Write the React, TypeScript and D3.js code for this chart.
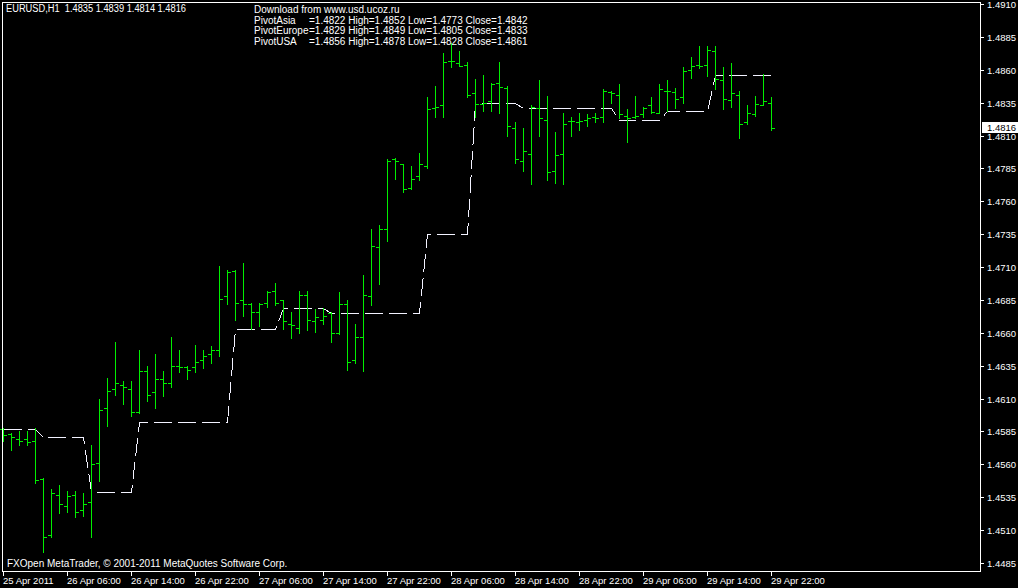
import * as d3 from 'd3';
import React from 'react';

// chart header / info texts
const titleText = 'EURUSD,H1  1.4835 1.4839 1.4814 1.4816';
const sourceText = 'Download from www.usd.ucoz.ru';
const pivotNames = ['PivotAsia', 'PivotEurope', 'PivotUSA'];
const pivotInfo = [
  '=1.4822 High=1.4852 Low=1.4773 Close=1.4842',
  '=1.4829 High=1.4849 Low=1.4805 Close=1.4833',
  '=1.4856 High=1.4878 Low=1.4828 Close=1.4861',
];
const footerText = 'FXOpen MetaTrader, \u00a9 2001-2011 MetaQuotes Software Corp.';

// time axis labels, one every 8 bars (H1)
const xTickLabels = [
  '25 Apr 2011', '26 Apr 06:00', '26 Apr 14:00', '26 Apr 22:00', '27 Apr 06:00',
  '27 Apr 14:00', '27 Apr 22:00', '28 Apr 06:00', '28 Apr 14:00', '28 Apr 22:00',
  '29 Apr 06:00', '29 Apr 14:00', '29 Apr 22:00',
];
const barsPerTick = 8;

// OHLC, 25 Apr 22:00 .. 29 Apr 22:00
const opens = [
  1.4587, 1.4583, 1.4579, 1.4579, 1.4578, 1.4549, 1.4506, 1.4537, 1.4528, 1.4537,
  1.4525, 1.4531, 1.4561, 1.4603, 1.4617, 1.4620, 1.4617, 1.4600, 1.4631, 1.4615,
  1.4625, 1.4622, 1.4635, 1.4634, 1.4634, 1.4639, 1.4644, 1.4647, 1.4688, 1.4707,
  1.4685, 1.4682, 1.4676, 1.4683, 1.4692, 1.4685, 1.4667, 1.4664, 1.4689, 1.4669,
  1.4670, 1.4675, 1.4660, 1.4682, 1.4639, 1.4657, 1.4688, 1.4725, 1.4739, 1.4792,
  1.4788, 1.4770, 1.4779, 1.4787, 1.4831, 1.4833, 1.4867, 1.4865, 1.4864, 1.4842,
  1.4834, 1.4836, 1.4850, 1.4846, 1.4816, 1.4791, 1.4796, 1.4831, 1.4822, 1.4783,
  1.4796, 1.4821, 1.4820, 1.4822, 1.4824, 1.4824, 1.4843, 1.4841, 1.4825, 1.4824,
  1.4826, 1.4833, 1.4827, 1.4844, 1.4843, 1.4839, 1.4860, 1.4864, 1.4864, 1.4874,
  1.4852, 1.4837, 1.4841, 1.4820, 1.4826, 1.4833, 1.4835,
];
const highs = [
  1.4588, 1.4584, 1.4585, 1.4585, 1.4588, 1.4550, 1.4541, 1.4544, 1.4540, 1.4540,
  1.4538, 1.4575, 1.4610, 1.4626, 1.4653, 1.4623, 1.4623, 1.4647, 1.4635, 1.4644,
  1.4631, 1.4657, 1.4647, 1.4635, 1.4651, 1.4647, 1.4650, 1.4711, 1.4708, 1.4708,
  1.4713, 1.4683, 1.4683, 1.4692, 1.4698, 1.4685, 1.4676, 1.4692, 1.4692, 1.4678,
  1.4679, 1.4676, 1.4691, 1.4685, 1.4667, 1.4704, 1.4739, 1.4742, 1.4792, 1.4793,
  1.4788, 1.4787, 1.4797, 1.4839, 1.4848, 1.4873, 1.4880, 1.4874, 1.4866, 1.4853,
  1.4856, 1.4850, 1.4866, 1.4848, 1.4820, 1.4816, 1.4833, 1.4852, 1.4840, 1.4813,
  1.4827, 1.4824, 1.4827, 1.4826, 1.4827, 1.4845, 1.4844, 1.4849, 1.4830, 1.4840,
  1.4832, 1.4839, 1.4849, 1.4852, 1.4846, 1.4862, 1.4870, 1.4878, 1.4878, 1.4878,
  1.4862, 1.4865, 1.4844, 1.4833, 1.4840, 1.4857, 1.4839,
];
const lows = [
  1.4578, 1.4571, 1.4575, 1.4575, 1.4546, 1.4493, 1.4505, 1.4523, 1.4524, 1.4520,
  1.4521, 1.4505, 1.4547, 1.4589, 1.4613, 1.4606, 1.4597, 1.4599, 1.4608, 1.4603,
  1.4612, 1.4619, 1.4630, 1.4625, 1.4630, 1.4633, 1.4637, 1.4642, 1.4682, 1.4670,
  1.4673, 1.4663, 1.4665, 1.4680, 1.4681, 1.4663, 1.4656, 1.4660, 1.4662, 1.4661,
  1.4667, 1.4653, 1.4659, 1.4632, 1.4637, 1.4631, 1.4681, 1.4697, 1.4730, 1.4777,
  1.4767, 1.4769, 1.4776, 1.4785, 1.4824, 1.4824, 1.4862, 1.4863, 1.4839, 1.4824,
  1.4829, 1.4829, 1.4827, 1.4810, 1.4789, 1.4783, 1.4773, 1.4810, 1.4776, 1.4774,
  1.4773, 1.4810, 1.4814, 1.4817, 1.4820, 1.4820, 1.4835, 1.4823, 1.4805, 1.4823,
  1.4824, 1.4827, 1.4827, 1.4829, 1.4831, 1.4835, 1.4854, 1.4861, 1.4855, 1.4845,
  1.4830, 1.4832, 1.4808, 1.4819, 1.4825, 1.4833, 1.4814,
];
const closes = [
  1.4582, 1.4581, 1.4578, 1.4577, 1.4548, 1.4505, 1.4538, 1.4530, 1.4536, 1.4524,
  1.4530, 1.4560, 1.4601, 1.4616, 1.4622, 1.4619, 1.4600, 1.4631, 1.4613, 1.4625,
  1.4622, 1.4635, 1.4634, 1.4632, 1.4638, 1.4642, 1.4647, 1.4686, 1.4706, 1.4683,
  1.4682, 1.4676, 1.4682, 1.4691, 1.4683, 1.4669, 1.4666, 1.4689, 1.4670, 1.4672,
  1.4673, 1.4660, 1.4682, 1.4638, 1.4657, 1.4689, 1.4726, 1.4739, 1.4791, 1.4791,
  1.4769, 1.4777, 1.4788, 1.4830, 1.4832, 1.4866, 1.4867, 1.4863, 1.4841, 1.4834,
  1.4835, 1.4849, 1.4847, 1.4817, 1.4792, 1.4798, 1.4832, 1.4823, 1.4782, 1.4795,
  1.4819, 1.4821, 1.4821, 1.4823, 1.4823, 1.4844, 1.4842, 1.4826, 1.4823, 1.4825,
  1.4831, 1.4828, 1.4845, 1.4844, 1.4838, 1.4859, 1.4863, 1.4863, 1.4875, 1.4853,
  1.4838, 1.4842, 1.4819, 1.4827, 1.4834, 1.4836, 1.4816,
];

// session pivot indicator value on each bar
const pivots = [
  1.4587, 1.4587, 1.4587, 1.4587, 1.4587,
  1.4581, 1.4581, 1.4581, 1.4581, 1.4581, 1.4581,
  1.4539, 1.4539, 1.4539, 1.4539, 1.4539, 1.4539,
  1.4592, 1.4592, 1.4592, 1.4592, 1.4592, 1.4592, 1.4592, 1.4592, 1.4592, 1.4592, 1.4592, 1.4592,
  1.4663, 1.4663, 1.4663, 1.4663, 1.4663, 1.4663,
  1.4679, 1.4679, 1.4679, 1.4679, 1.4679, 1.4679,
  1.4675, 1.4675, 1.4675, 1.4675, 1.4675, 1.4675, 1.4675, 1.4675, 1.4675, 1.4675, 1.4675, 1.4675,
  1.4735, 1.4735, 1.4735, 1.4735, 1.4735, 1.4735,
  1.4835, 1.4835, 1.4835, 1.4835, 1.4835, 1.4835,
  1.4831, 1.4831, 1.4831, 1.4831, 1.4831, 1.4831, 1.4831, 1.4831, 1.4831, 1.4831, 1.4831, 1.4831,
  1.4822, 1.4822, 1.4822, 1.4822, 1.4822, 1.4822,
  1.4829, 1.4829, 1.4829, 1.4829, 1.4829, 1.4829,
  1.4856, 1.4856, 1.4856, 1.4856, 1.4856, 1.4856, 1.4856, 1.4856,
];

const lastPrice = 1.4816;
const yMin = 1.4485;
const yMax = 1.4910;
const yStep = 0.0025;

const W = 1018;
const H = 588;
const font = "Tahoma, 'Liberation Sans', Arial, sans-serif";
const barColor = '#00ee00';

const App: React.FC = () => {
  const plot = { left: 2, top: 2, right: 980, bottom: 571 };

  const x = d3.scaleLinear().domain([0, opens.length - 1]).range([3.5, 3.5 + 8 * (opens.length - 1)]);
  const y = d3.scaleLinear().domain([yMin, yMax]).range([563, 4]);
  const py = (v: number) => Math.round(y(v)) + 0.5;

  const yTicks = d3.range(0, Math.round((yMax - yMin) / yStep) + 1).map(k => yMin + k * yStep);
  const fmt = d3.format('.4f');

  const pivotLine = d3.line<number>()
    .x((_, i) => x(i))
    .y(d => py(d));

  return (
    <svg width={W} height={H} style={{ position: 'absolute', left: 0, top: 0, background: '#000' }}
      fontFamily={font}>
      <rect x={0} y={0} width={W} height={H} fill="#000" />

      {/* pivot line */}
      <path d={pivotLine(pivots) || ''} fill="none" stroke="#f2f2ff" strokeWidth={1}
        strokeDasharray="18 6" shapeRendering="crispEdges" />

      {/* OHLC bars */}
      <g stroke={barColor} strokeWidth={1} shapeRendering="crispEdges">
        {opens.map((o, i) => {
          const cx = x(i);
          return (
            <g key={i}>
              <line x1={cx} x2={cx} y1={py(highs[i]) - 0.5} y2={py(lows[i]) + 0.5} />
              <line x1={cx - 3.5} x2={cx} y1={py(o)} y2={py(o)} />
              <line x1={cx} x2={cx + 3.5} y1={py(closes[i])} y2={py(closes[i])} />
            </g>
          );
        })}
      </g>

      {/* frame */}
      <rect x={plot.left + 0.5} y={plot.top + 0.5} width={plot.right - plot.left} height={plot.bottom - plot.top}
        fill="none" stroke="#fff" strokeWidth={1} shapeRendering="crispEdges" />

      {/* price axis */}
      <g fill="#fff" fontSize={9.5}>
        {yTicks.map(v => (
          <g key={v}>
            <line x1={plot.right + 1} x2={plot.right + 4} y1={py(v)} y2={py(v)} stroke="#fff" shapeRendering="crispEdges" />
            <text x={987} y={py(v)} dy="0.35em">{fmt(v)}</text>
          </g>
        ))}
      </g>

      {/* current price marker */}
      <rect x={982} y={py(lastPrice) - 6.5} width={36} height={11} fill="#fff" />
      <text x={987} y={py(lastPrice) - 1} dy="0.35em" fontSize={9.5} fill="#000">{fmt(lastPrice)}</text>

      {/* time axis */}
      <g fill="#fff" fontSize={9.5}>
        {xTickLabels.map((t, k) => {
          const tx = x(k * barsPerTick);
          return (
            <g key={t}>
              <line x1={tx} x2={tx} y1={plot.bottom + 1} y2={plot.bottom + 5} stroke="#fff" shapeRendering="crispEdges" />
              <text x={tx - 0.5} y={584}>{t}</text>
            </g>
          );
        })}
      </g>

      {/* header texts */}
      <g fill="#fff" fontSize={10}>
        <text x={6} y={12} textLength={180} lengthAdjust="spacingAndGlyphs" style={{ whiteSpace: 'pre' }}>{titleText}</text>
        <text x={254} y={12.5}>{sourceText}</text>
        {pivotNames.map((n, k) => (
          <g key={n}>
            <text x={254} y={23.5 + k * 10.7}>{n}</text>
            <text x={309} y={23.5 + k * 10.7}>{pivotInfo[k]}</text>
          </g>
        ))}
        <text x={7} y={567}>{footerText}</text>
      </g>
    </svg>
  );
};

export default App;
